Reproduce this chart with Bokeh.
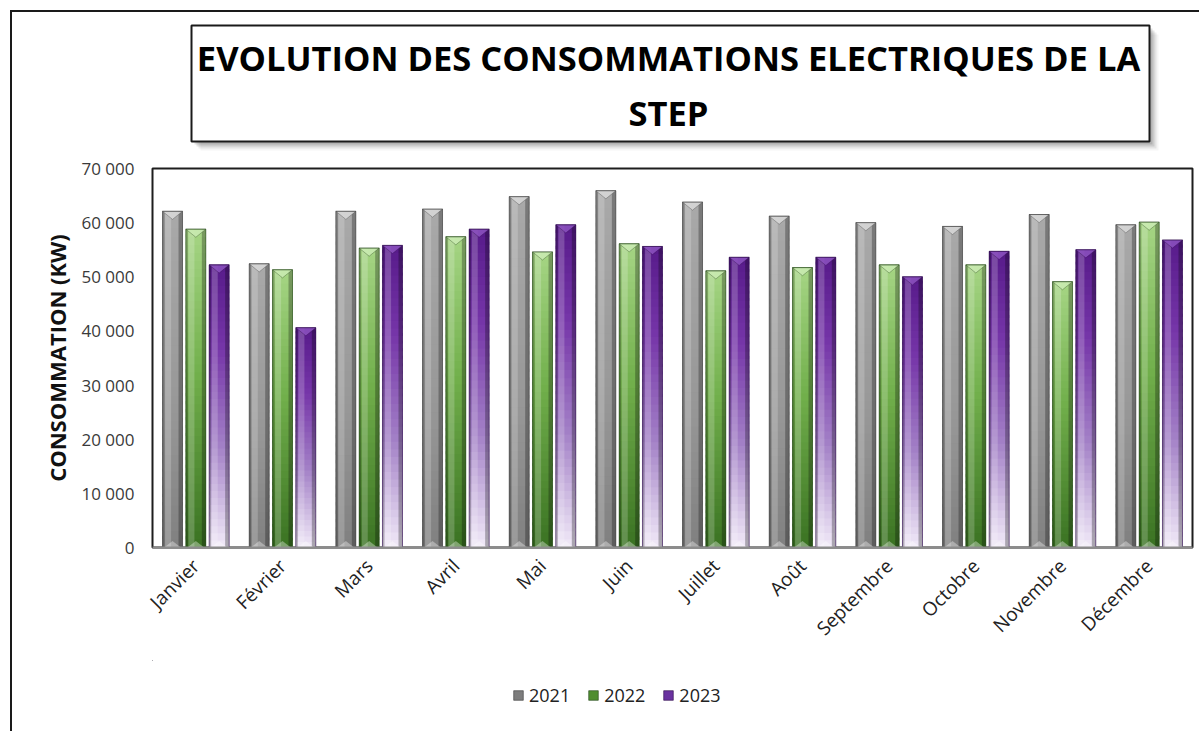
import numpy as np
from bokeh.plotting import figure
from bokeh.layouts import column
from bokeh.models import (FactorRange, Range1d, FixedTicker, Label, BoxAnnotation, Legend,
                          LegendItem, ColumnDataSource, InlineStyleSheet)
from bokeh.embed import file_html
from bokeh.resources import INLINE

# ---- data -------------------------------------------------------------
months = ["Janvier", "Février", "Mars", "Avril", "Mai", "Juin", "Juillet",
          "Août", "Septembre", "Octobre", "Novembre", "Décembre"]
years = ["2021", "2022", "2023"]
conso_2021 = [62100, 52400, 62100, 62500, 64800, 65900, 63800, 61200, 60000, 59300, 61500, 59600]
conso_2022 = [58800, 51300, 55300, 57400, 54600, 56100, 51100, 51700, 52200, 52200, 49100, 60100]
conso_2023 = [52200, 40600, 55800, 58800, 59600, 55600, 53600, 53600, 50000, 54700, 55000, 56800]
y_ticks = [0, 10000, 20000, 30000, 40000, 50000, 60000, 70000]
y_tick_labels = ["0", "10 000", "20 000", "30 000", "40 000", "50 000", "60 000", "70 000"]
title_lines = ["EVOLUTION DES CONSOMMATIONS ELECTRIQUES DE LA", "STEP"]
y_title = "CONSOMMATION (KW)"

# ---- styling ------------------------------------------------------------
series = [
    # (values, gradient stops top->bottom, legend colour, bevel colour, edge colour)
    (conso_2021, [(0.0, "#a9a9a9"), (0.6, "#979797"), (1.0, "#808080")], "#7d7d7d", "#d6d6d6", "#3c3c3c"),
    (conso_2022, [(0.0, "#a6d585"), (0.45, "#72b04c"), (1.0, "#3a7222")], "#4f8d30", "#c9eab0", "#24461a"),
    (conso_2023, [(0.0, "#571a8a"), (0.3, "#7636a9"), (0.65, "#a482c7"), (1.0, "#f1eaf8")], "#6a32a0", "#8a50bd", "#2e0c4a"),
]
OFFSETS = [-0.269, 0.0, 0.269]
BAR_W = 0.231
N_SLICES = 40
BEVEL = 1500.0
FONT = "Open Sans"

W = 1199
FRAME_L, FRAME_R = 152, 1192          # plot frame, shared by the three strips
H_HEAD, H_CHART, H_LEGEND = 154, 506, 71


def hex_to_rgb(h):
    h = h.lstrip("#")
    return np.array([int(h[i:i + 2], 16) for i in (0, 2, 4)], dtype=float)


def gradient(stops, t):
    ts = [s[0] for s in stops]
    cols = [hex_to_rgb(s[1]) for s in stops]
    rgb = np.array([np.interp(t, ts, [c[k] for c in cols]) for k in range(3)])
    return "#%02x%02x%02x" % tuple(int(round(v)) for v in rgb)


def strip(height):
    """A bare figure sharing the chart's frame, used for the title and the legend."""
    f = figure(width=W, height=height,
               x_range=Range1d(FRAME_L, FRAME_R), y_range=Range1d(height, 0),
               output_backend="svg", toolbar_location=None,
               x_axis_location=None, y_axis_location=None,
               min_border_left=FRAME_L, min_border_right=W - FRAME_R,
               min_border_top=0, min_border_bottom=0)
    f.outline_line_color = None
    f.xgrid.visible = False
    f.ygrid.visible = False
    f.background_fill_color = "white"
    f.border_fill_color = "white"
    return f


# ---- title strip: framed box with a soft drop shadow ------------------------------
head = strip(H_HEAD)
box = dict(left=191, right=1149, top=25, bottom=141)
for d, a in [(9, 0.04), (7, 0.07), (5, 0.1), (3, 0.12)]:
    head.add_layout(BoxAnnotation(left=box["left"] + d, right=box["right"] + d,
                                  top=box["top"] + d, bottom=box["bottom"] + d,
                                  fill_color="black", fill_alpha=a, line_color=None))
head.add_layout(BoxAnnotation(**box, fill_color="white", fill_alpha=1,
                              line_color="#1a1a1a", line_alpha=1, line_width=2))
for line, ycen in zip(title_lines, [57, 112]):
    head.add_layout(Label(x=668, y=ycen, text=line,
                          text_font=FONT, text_font_style="bold", text_font_size="34.5px",
                          text_color="black", text_align="center", text_baseline="middle"))

# ---- chart -------------------------------------------------------------------
p = figure(width=W, height=H_CHART,
           x_range=FactorRange(factors=months, range_padding=0),
           y_range=Range1d(0, 70000),
           output_backend="svg", toolbar_location=None,
           min_border_left=FRAME_L, min_border_right=W - FRAME_R,
           min_border_top=14, min_border_bottom=113)
p.background_fill_color = "white"
p.border_fill_color = "white"
p.outline_line_color = "#1e1e1e"
p.outline_line_width = 2
p.xgrid.visible = False
p.ygrid.visible = False

centers = np.arange(len(months)) + 0.5
for (vals, stops, leg_col, bevel_col, edge_col), off in zip(series, OFFSETS):
    vals = np.asarray(vals, dtype=float)
    xs = centers + off

    p.vbar(x=xs, top=vals, bottom=0, width=BAR_W, fill_color=leg_col, line_color=None)

    # vertical colour gradient built from stacked slices of each bar
    sx, sb, st, sc = [], [], [], []
    for x, v in zip(xs, vals):
        for k in range(N_SLICES):
            t = 1.0 - (k + 0.5) / N_SLICES
            sx.append(x)
            sb.append(v * k / N_SLICES)
            st.append(min(v, v * (k + 1.4) / N_SLICES))
            sc.append(gradient(stops, t))
    p.vbar(x="x", bottom="b", top="t", width=BAR_W, fill_color="c", line_color=None,
           source=ColumnDataSource(dict(x=sx, b=sb, t=st, c=sc)))

    # rounded look: light strip left of centre, dark strips on the edges
    p.vbar(x=xs - 0.22 * BAR_W, top=vals, bottom=0, width=0.3 * BAR_W,
           fill_color="white", fill_alpha=0.2, line_color=None)
    p.vbar(x=xs + 0.4 * BAR_W, top=vals, bottom=0, width=0.2 * BAR_W,
           fill_color="black", fill_alpha=0.28, line_color=None)
    p.vbar(x=xs - 0.45 * BAR_W, top=vals, bottom=0, width=0.1 * BAR_W,
           fill_color="black", fill_alpha=0.25, line_color=None)

    # bevelled top and bottom
    tri_x = [[x - BAR_W / 2, x + BAR_W / 2, x] for x in xs]
    tri_y = [[v, v, v - BEVEL] for v in vals]
    p.patches(tri_x, tri_y, fill_color=bevel_col, fill_alpha=0.9,
              line_color=edge_col, line_alpha=0.35, line_width=1)
    bot_x = [[x - BAR_W * 0.42, x + BAR_W * 0.42, x] for x in xs]
    bot_y = [[0, 0, BEVEL * 0.8] for _ in vals]
    p.patches(bot_x, bot_y, fill_color="white", fill_alpha=0.35, line_color=None)

    p.vbar(x=xs, top=vals, bottom=0, width=BAR_W, fill_alpha=0,
           line_color=edge_col, line_alpha=0.55, line_width=1)

yax = p.yaxis[0]
yax.ticker = FixedTicker(ticks=y_ticks)
yax.major_label_overrides = {t: s for t, s in zip(y_ticks, y_tick_labels)}
yax.major_tick_line_color = None
yax.minor_tick_line_color = None
yax.axis_line_color = None
yax.major_label_standoff = 12
yax.major_label_text_font = FONT
yax.major_label_text_font_size = "17px"
yax.major_label_text_color = "#3a3a3a"
yax.axis_label = y_title
yax.axis_label_text_font = FONT
yax.axis_label_text_font_style = "bold"
yax.axis_label_text_font_size = "22px"
yax.axis_label_text_color = "#111111"
yax.axis_label_standoff = 6

xax = p.xaxis[0]
xax.major_label_orientation = np.pi / 4
xax.major_tick_line_color = None
xax.minor_tick_line_color = None
xax.axis_line_color = "#8c8c8c"
xax.axis_line_width = 2
xax.major_label_standoff = 9
xax.major_label_text_font = FONT
xax.major_label_text_font_size = "19px"
xax.major_label_text_color = "#222222"

# ---- legend strip ---------------------------------------------------------------
foot = strip(H_LEGEND)
items = []
for (vals, stops, leg_col, bevel_col, edge_col), year in zip(series, years):
    # key glyph only: its single bar lies outside the strip's visible range
    r = foot.vbar(x=[-1e6], top=[0], width=1, fill_color=leg_col,
                  line_color=edge_col, line_alpha=0.6)
    items.append(LegendItem(label=year, renderers=[r]))
foot.add_layout(Legend(items=items, orientation="horizontal", location=(512 - FRAME_L, 24),
                       glyph_width=12, glyph_height=12, label_standoff=5, spacing=17,
                       padding=0, margin=0, border_line_color=None, background_fill_alpha=0,
                       label_text_font=FONT, label_text_font_size="18px",
                       label_text_color="#222222"))

page = column(head, p, foot, spacing=0)
page_css = """
:host { position: relative; overflow: hidden; }
:host::before {
  content: ""; position: absolute; box-sizing: border-box;
  left: 10px; top: 10px; width: 1260px; height: 800px;
  border: 2px solid #1a1a1a; pointer-events: none; z-index: 5;
}
"""
page.stylesheets = [InlineStyleSheet(css=page_css)]

open("out.html", "w").write(file_html(page, INLINE))
